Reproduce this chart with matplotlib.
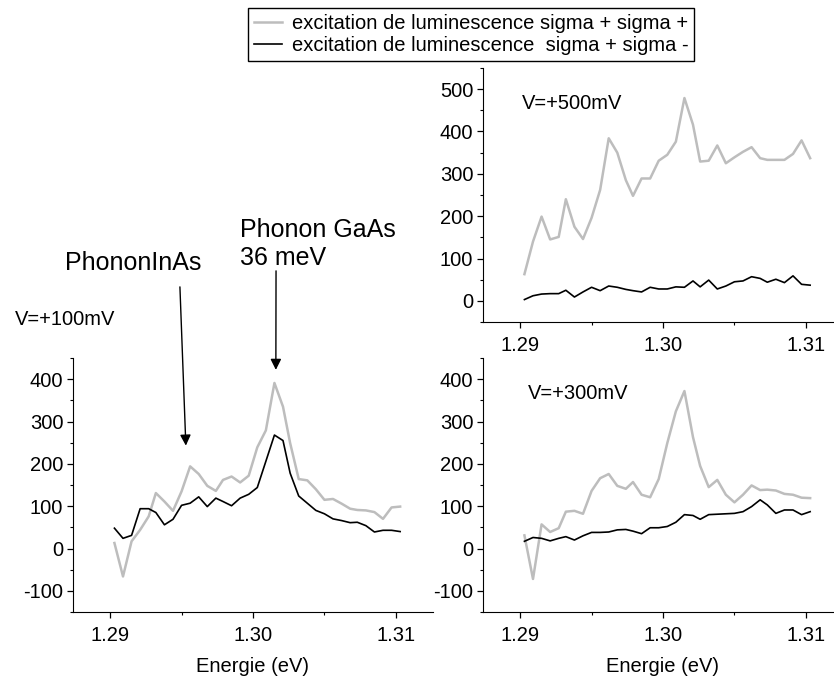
import numpy as np
import matplotlib
matplotlib.use("Agg")
import matplotlib.pyplot as plt
from matplotlib.ticker import MultipleLocator

plt.rcParams['font.family'] = ['Liberation Sans', 'DejaVu Sans']
plt.rcParams['font.size'] = 14.5
plt.rcParams['axes.unicode_minus'] = False

# photon energy (eV), same grid for the three spectra
energie = [1.2903, 1.2909, 1.2915, 1.2921, 1.2927, 1.2932, 1.2938, 1.2944, 1.2950,
           1.2956, 1.2962, 1.2968, 1.2974, 1.2979, 1.2985, 1.2991, 1.2997, 1.3003,
           1.3009, 1.3015, 1.3021, 1.3026, 1.3032, 1.3038, 1.3044, 1.3050, 1.3056,
           1.3062, 1.3068, 1.3073, 1.3079, 1.3085, 1.3091, 1.3097, 1.3103]

# V=+100mV
v100_pp = [13, -66, 17, 44, 76, 131, 111, 89, 135, 194, 176, 148, 136, 162, 170, 156, 172,
           239, 279, 391, 335, 249, 164, 161, 140, 115, 117, 106, 94, 91, 90, 86, 70, 97, 99]
v100_pm = [48, 24, 31, 94, 94, 85, 56, 69, 102, 107, 122, 99, 119, 111, 101, 119, 128,
           144, 206, 268, 255, 178, 124, 107, 90, 82, 70, 66, 61, 62, 54, 39, 43, 43, 40]

# V=+500mV
v500_pp = [63, 140, 199, 145, 151, 240, 175, 146, 196, 262, 384, 350, 285, 248, 289, 289, 331,
           345, 376, 479, 416, 329, 331, 367, 325, 339, 352, 363, 337, 333, 333, 333, 347, 379, 337]
v500_pm = [3, 12, 16, 17, 17, 25, 9, 21, 32, 24, 35, 32, 27, 24, 21, 32, 28,
           28, 33, 32, 47, 33, 49, 28, 35, 45, 47, 57, 53, 44, 51, 43, 59, 39, 37]

# V=+300mV
v300_pp = [31, -72, 57, 39, 48, 87, 89, 82, 136, 166, 176, 148, 141, 157, 127, 121, 164,
           249, 324, 372, 263, 195, 145, 162, 127, 109, 127, 149, 138, 139, 137, 129, 127, 120, 119]
v300_pm = [17, 26, 24, 18, 24, 28, 20, 30, 38, 38, 39, 44, 45, 41, 35, 49, 49,
           52, 62, 80, 78, 69, 80, 81, 82, 83, 87, 99, 115, 103, 83, 91, 91, 80, 87]

labels = ["excitation de luminescence sigma + sigma +",
          "excitation de luminescence  sigma + sigma -"]
gris = '#bdbdbd'

fig = plt.figure(figsize=(8.34, 6.80), dpi=100)
W, H = 834, 680

def make_ax(x0, y_top, y_bot, w=360):
    return fig.add_axes([x0 / W, 1 - y_bot / H, w / W, (y_bot - y_top) / H])

ax1 = make_ax(73, 358, 612)
ax2 = make_ax(483, 68, 322)
ax3 = make_ax(483, 358, 612)

for ax, pp, pm, ylim, yt in [(ax1, v100_pp, v100_pm, (-150, 450), [-100, 0, 100, 200, 300, 400]),
                             (ax2, v500_pp, v500_pm, (-50, 550), [0, 100, 200, 300, 400, 500]),
                             (ax3, v300_pp, v300_pm, (-150, 450), [-100, 0, 100, 200, 300, 400])]:
    ax.plot(energie, pp, color=gris, lw=1.8, label=labels[0])
    ax.plot(energie, pm, color='black', lw=1.2, label=labels[1])
    ax.set_xlim(1.2874, 1.3126)
    ax.set_ylim(*ylim)
    ax.set_yticks(yt)
    ax.set_xticks([1.29, 1.30, 1.31])
    ax.set_xticklabels(['1.29', '1.30', '1.31'])
    ax.xaxis.set_minor_locator(MultipleLocator(0.005))
    ax.yaxis.set_minor_locator(MultipleLocator(50))
    ax.spines['top'].set_visible(False)
    ax.spines['right'].set_visible(False)
    ax.tick_params(which='major', direction='out', length=4, width=0.9, pad=3)
    ax.tick_params(which='minor', direction='out', length=2.5, width=0.8)
    ax.tick_params(axis='x', which='major', pad=6)
    ax.patch.set_alpha(0)

ax1.set_xlabel('Energie (eV)', labelpad=9)
ax3.set_xlabel('Energie (eV)', labelpad=9)

ax1.text(-0.161, 1.15, 'V=+100mV', transform=ax1.transAxes, va='center', ha='left')
ax2.text(0.109, 0.862, 'V=+500mV', transform=ax2.transAxes, va='center', ha='left')
ax3.text(0.125, 0.862, 'V=+300mV', transform=ax3.transAxes, va='center', ha='left')

ax1.text(-0.022, 1.374, 'PhononInAs', transform=ax1.transAxes, va='center', ha='left', fontsize=18)
ax1.text(0.464, 1.449, 'Phonon GaAs\n36 meV', transform=ax1.transAxes, va='center', ha='left',
         fontsize=18, linespacing=1.2)

arrow = dict(arrowstyle='-|>', color='black', lw=1.0, mutation_scale=16, shrinkA=0, shrinkB=0)
ax1.annotate('', xy=(1.2953, 243), xycoords='data', xytext=(0.297, 1.280),
             textcoords='axes fraction', arrowprops=arrow, annotation_clip=False)
ax1.annotate('', xy=(1.3016, 422), xycoords='data', xytext=(0.564, 1.343),
             textcoords='axes fraction', arrowprops=arrow, annotation_clip=False)

h, l = ax1.get_legend_handles_labels()
leg = fig.legend(h, l, loc='upper center', bbox_to_anchor=(471 / W, 1 - 8 / H),
                 frameon=True, fancybox=False, edgecolor='black', framealpha=1,
                 borderpad=0.3, labelspacing=0.15, handlelength=1.4, handletextpad=0.5,
                 borderaxespad=0)
leg.get_frame().set_linewidth(1.0)

fig.savefig('out.png', dpi=100)
